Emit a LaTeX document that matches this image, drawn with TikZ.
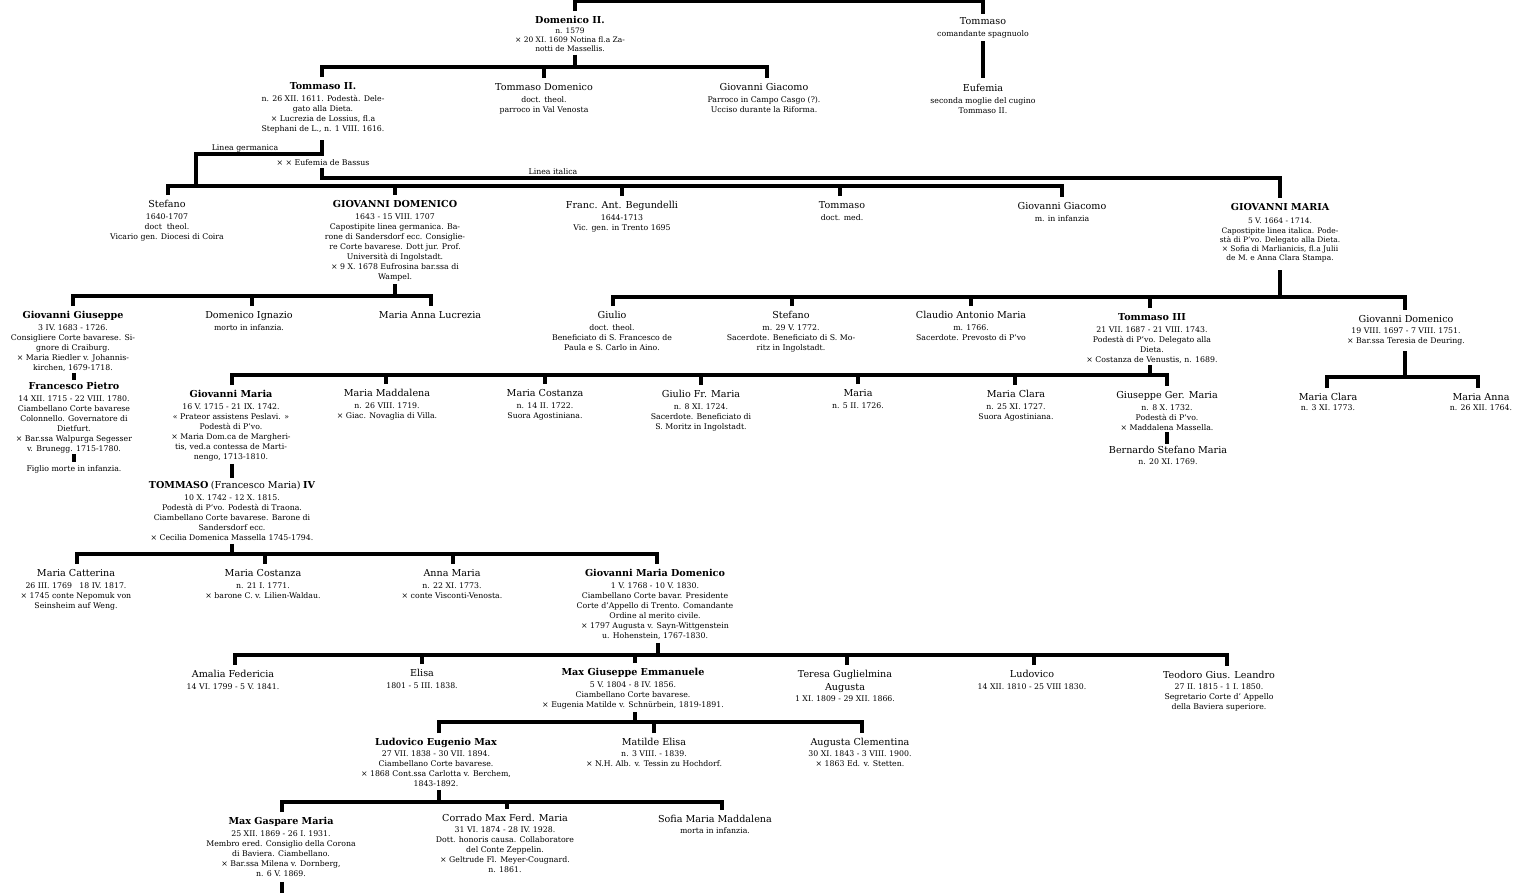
\documentclass[tikz,border=0pt]{standalone}
\usepackage{fontspec}
\setmainfont{DejaVu Serif}
\tikzset{
  per/.style={anchor=north, align=center, inner sep=0pt, font=\fontsize{7.8}{10}\selectfont},
  perc/.style={per, font=\fontsize{7.5}{9.1}\selectfont},
  lab/.style={inner sep=0pt, font=\fontsize{7.8}{10}\selectfont},
  lnk/.style={line width=3.8pt},
}
\newcommand\NM[1]{{\fontsize{9.6}{10}\selectfont #1}}
\newcommand\BN[1]{{\fontsize{9.6}{10}\selectfont\bfseries #1}}
\begin{document}
\begin{tikzpicture}[x=1pt,y=-1pt]
\fill[white] (0,0) rectangle (1515,895);
\useasboundingbox (0,0) rectangle (1515,895);

% ---------- persons ----------
\node[perc] (dom2) at (570,16) {\BN{Domenico II.}\\[0.5pt] n. 1579\\ × 20 XI. 1609 Notina fl.a Za-\\ notti de Massellis.};
\node[per] (tomsp) at (983,17) {\NM{Tommaso}\\[2pt] comandante spagnuolo};

\node[per] (tom2) at (323,82) {\BN{Tommaso II.}\\[2pt] n. 26 XII. 1611. Podestà. Dele-\\ gato alla Dieta.\\ × Lucrezia de Lossius, fl.a\\ Stephani de L., n. 1 VIII. 1616.};
\node[per] (tomdom) at (544,83) {\NM{Tommaso Domenico}\\[2pt] doct. theol.\\ parroco in Val Venosta};
\node[per] (giogia1) at (764,83) {\NM{Giovanni Giacomo}\\[2pt] Parroco in Campo Casgo (?).\\ Ucciso durante la Riforma.};
\node[per] (eufemia) at (983,84) {\NM{Eufemia}\\[2pt] seconda moglie del cugino\\ Tommaso II.};

\node[lab] (lgerm) at (245,148) {Linea germanica};
\node[lab] (eubas) at (323,163) {× × Eufemia de Bassus};
\node[lab] (lital) at (553,172) {Linea italica};

\node[per] (stef1) at (167,200) {\NM{Stefano}\\[2pt] 1640-1707\\ doct\ \ theol.\\ Vicario gen. Diocesi di Coira};
\node[per] (giodom) at (395,200) {\BN{GIOVANNI DOMENICO}\\[2pt] 1643 - 15 VIII. 1707\\ Capostipite linea germanica. Ba-\\ rone di Sandersdorf ecc. Consiglie-\\ re Corte bavarese. Dott jur. Prof.\\ Università di Ingolstadt.\\ × 9 X. 1678 Eufrosina bar.ssa di\\ Wampel.};
\node[per] (franc) at (622,201) {\NM{Franc. Ant. Begundelli}\\[2pt] 1644-1713\\ Vic. gen. in Trento 1695};
\node[per] (tom3a) at (842,201) {\NM{Tommaso}\\[2pt] doct. med.};
\node[per] (giogia2) at (1062,202) {\NM{Giovanni Giacomo}\\[2pt] m. in infanzia};
\node[perc] (giomar) at (1280,203) {\BN{GIOVANNI MARIA}\\[4.5pt] 5 V. 1664 - 1714.\\ Capostipite linea italica. Pode-\\ stà di P'vo. Delegato alla Dieta.\\ × Sofia di Marlianicis, fl.a Julii\\ de M. e Anna Clara Stampa.};

\node[per] (giogiu) at (73,311) {\BN{Giovanni Giuseppe}\\[2pt] 3 IV. 1683 - 1726.\\ Consigliere Corte bavarese. Si-\\ gnore di Craiburg.\\ × Maria Riedler v. Johannis-\\ kirchen, 1679-1718.};
\node[per] (domign) at (249,311) {\NM{Domenico Ignazio}\\[2pt] morto in infanzia.};
\node[per] (marannl) at (430,311) {\NM{Maria Anna Lucrezia}};
\node[per] (giulio) at (612,311) {\NM{Giulio}\\[2pt] doct. theol.\\ Beneficiato di S. Francesco de\\ Paula e S. Carlo in Aino.};
\node[per] (stef2) at (791,311) {\NM{Stefano}\\[2pt] m. 29 V. 1772.\\ Sacerdote. Beneficiato di S. Mo-\\ ritz in Ingolstadt.};
\node[per] (claudio) at (971,311) {\NM{Claudio Antonio Maria}\\[2pt] m. 1766.\\ Sacerdote. Prevosto di P'vo};
\node[per] (tom3) at (1152,313) {\BN{Tommaso III}\\[2pt] 21 VII. 1687 - 21 VIII. 1743.\\ Podestà di P'vo. Delegato alla\\ Dieta.\\ × Costanza de Venustis, n. 1689.};
\node[per] (giodom2) at (1406,315) {\NM{Giovanni Domenico}\\[1pt] 19 VIII. 1697 - 7 VIII. 1751.\\ × Bar.ssa Teresia de Deuring.};

\node[per] (franpie) at (74,382) {\BN{Francesco Pietro}\\[2pt] 14 XII. 1715 - 22 VIII. 1780.\\ Ciambellano Corte bavarese\\ Colonnello. Governatore di\\ Dietfurt.\\ × Bar.ssa Walpurga Segesser\\ v. Brunegg. 1715-1780.};
\node[per] (figlio) at (74,465) {Figlio morte in infanzia.};

\node[per] (giomar2) at (231,390) {\BN{Giovanni Maria}\\[2pt] 16 V. 1715 - 21 IX. 1742.\\ « Prateor assistens Peslavi. »\\ Podestà di P'vo.\\ × Maria Dom.ca de Margheri-\\ tis, ved.a contessa de Marti-\\ nengo, 1713-1810.};
\node[per] (marmad) at (387,389) {\NM{Maria Maddalena}\\[2pt] n. 26 VIII. 1719.\\ × Giac. Novaglia di Villa.};
\node[per] (marcos1) at (545,389) {\NM{Maria Costanza}\\[2pt] n. 14 II. 1722.\\ Suora Agostiniana.};
\node[per] (giulfr) at (701,390) {\NM{Giulio Fr. Maria}\\[2pt] n. 8 XI. 1724.\\ Sacerdote. Beneficiato di\\ S. Moritz in Ingolstadt.};
\node[per] (maria) at (858,389) {\NM{Maria}\\[2pt] n. 5 II. 1726.};
\node[per] (marcla1) at (1016,390) {\NM{Maria Clara}\\[2pt] n. 25 XI. 1727.\\ Suora Agostiniana.};
\node[per] (giuger) at (1167,391) {\NM{Giuseppe Ger. Maria}\\[2pt] n. 8 X. 1732.\\ Podestà di P'vo.\\ × Maddalena Massella.};
\node[per] (bern) at (1168,446) {\NM{Bernardo Stefano Maria}\\[1pt] n. 20 XI. 1769.};
\node[per] (marcla2) at (1328,393) {\NM{Maria Clara}\\[0pt] n. 3 XI. 1773.};
\node[per] (marann2) at (1481,393) {\NM{Maria Anna}\\[0pt] n. 26 XII. 1764.};

\node[per] (tom4) at (232,481) {\BN{TOMMASO} \NM{(Francesco Maria)} \BN{IV}\\[2pt] 10 X. 1742 - 12 X. 1815.\\ Podestà di P'vo. Podestà di Traona.\\ Ciambellano Corte bavarese. Barone di\\ Sandersdorf ecc.\\ × Cecilia Domenica Massella 1745-1794.};

\node[per] (marcat) at (76,569) {\NM{Maria Catterina}\\[2pt] 26 III. 1769 \ \ 18 IV. 1817.\\ × 1745 conte Nepomuk von\\ Seinsheim auf Weng.};
\node[per] (marcos2) at (263,569) {\NM{Maria Costanza}\\[2pt] n. 21 I. 1771.\\ × barone C. v. Lilien-Waldau.};
\node[per] (annmar) at (452,569) {\NM{Anna Maria}\\[2pt] n. 22 XI. 1773.\\ × conte Visconti-Venosta.};
\node[per] (giomardom) at (655,569) {\BN{Giovanni Maria Domenico}\\[2pt] 1 V. 1768 - 10 V. 1830.\\ Ciambellano Corte bavar. Presidente\\ Corte d'Appello di Trento. Comandante\\ Ordine al merito civile.\\ × 1797 Augusta v. Sayn-Wittgenstein\\ u. Hohenstein, 1767-1830.};

\node[per] (amalia) at (233,670) {\NM{Amalia Federicia}\\[2pt] 14 VI. 1799 - 5 V. 1841.};
\node[per] (elisa) at (422,669) {\NM{Elisa}\\[2pt] 1801 - 5 III. 1838.};
\node[per] (maxgiu) at (633,668) {\BN{Max Giuseppe Emmanuele}\\[2pt] 5 V. 1804 - 8 IV. 1856.\\ Ciambellano Corte bavarese.\\ × Eugenia Matilde v. Schnürbein, 1819-1891.};
\node[per] (teresa) at (845,670) {\NM{Teresa Guglielmina}\\[3pt] \NM{Augusta}\\[1pt] 1 XI. 1809 - 29 XII. 1866.};
\node[per] (ludov) at (1032,670) {\NM{Ludovico}\\[2pt] 14 XII. 1810 - 25 VIII 1830.};
\node[per] (teodoro) at (1219,671) {\NM{Teodoro Gius. Leandro}\\[1pt] 27 II. 1815 - 1 I. 1850.\\ Segretario Corte d' Appello\\ della Baviera superiore.};

\node[per] (ludeug) at (436,738) {\BN{Ludovico Eugenio Max}\\[1pt] 27 VII. 1838 - 30 VII. 1894.\\ Ciambellano Corte bavarese.\\ × 1868 Cont.ssa Carlotta v. Berchem,\\ 1843-1892.};
\node[per] (matil) at (654,738) {\NM{Matilde Elisa}\\[1pt] n. 3 VIII. - 1839.\\ × N.H. Alb. v. Tessin zu Hochdorf.};
\node[per] (augcle) at (860,738) {\NM{Augusta Clementina}\\[1pt] 30 XI. 1843 - 3 VIII. 1900.\\ × 1863 Ed. v. Stetten.};

\node[per] (maxgas) at (281,817) {\BN{Max Gaspare Maria}\\[2pt] 25 XII. 1869 - 26 I. 1931.\\ Membro ered. Consiglio della Corona\\ di Baviera. Ciambellano.\\ × Bar.ssa Milena v. Dornberg,\\ n. 6 V. 1869.};
\node[per] (corrado) at (505,814) {\NM{Corrado Max Ferd. Maria}\\[1pt] 31 VI. 1874 - 28 IV. 1928.\\ Dott. honoris causa. Collaboratore\\ del Conte Zeppelin.\\ × Geltrude Fl. Meyer-Cougnard.\\ n. 1861.};
\node[per] (sofia) at (715,815) {\NM{Sofia Maria Maddalena}\\[1pt] morta in infanzia.};

% ---------- bar levels ----------
\coordinate (b0) at (0,1.5);
\coordinate (b1) at (0,67);
\coordinate (gm) at (196,154);
\coordinate (b2i) at (0,178);
\coordinate (b2) at (0,186);
\coordinate (b3) at (0,296);
\coordinate (b4) at (0,297);
\coordinate (b5) at (0,375);
\coordinate (b6) at (0,377);
\coordinate (b7) at (0,554);
\coordinate (b8) at (0,655);
\coordinate (b9) at (0,722);
\coordinate (b10) at (0,802);
\coordinate (maxgasend) at (282,893);

% ---------- tick points ----------
\coordinate (dom2t) at ([xshift=5pt,yshift=5pt]dom2.north);
\coordinate (tomspt) at ([yshift=3pt]tomsp.north);
\coordinate (dom2b) at ([xshift=5pt,yshift=-3pt]dom2.south);
\coordinate (tom2t) at ([xshift=-1pt,yshift=5pt]tom2.north);
\coordinate (tomdomt) at ([yshift=5pt]tomdom.north);
\coordinate (giogia1t) at ([xshift=3pt,yshift=5pt]giogia1.north);
\coordinate (tomspb) at ([yshift=-3pt]tomsp.south);
\coordinate (eufemiat) at ([yshift=6pt]eufemia.north);
\coordinate (tom2b) at ([xshift=-1pt,yshift=-7pt]tom2.south);
\coordinate (eubasb) at ([xshift=-1pt,yshift=-2pt]eubas.south);
\coordinate (giomart) at ([yshift=5pt]giomar.north);
\coordinate (stef1t) at ([xshift=1pt,yshift=5pt]stef1.north);
\coordinate (giodomt) at ([yshift=5pt]giodom.north);
\coordinate (franct) at ([yshift=5pt]franc.north);
\coordinate (tom3at) at ([xshift=-2pt,yshift=5pt]tom3a.north);
\coordinate (giogia2t) at ([yshift=5pt]giogia2.north);
\coordinate (giodomb) at ([yshift=-3pt]giodom.south);
\coordinate (giogiut) at ([yshift=5pt]giogiu.north);
\coordinate (domignt) at ([xshift=3pt,yshift=5pt]domign.north);
\coordinate (marannlt) at ([xshift=1pt,yshift=5pt]marannl.north);
\coordinate (giomarb) at ([yshift=-8pt]giomar.south);
\coordinate (giuliot) at ([xshift=1pt,yshift=5pt]giulio.north);
\coordinate (stef2t) at ([xshift=1pt,yshift=5pt]stef2.north);
\coordinate (claudiot) at ([yshift=5pt]claudio.north);
\coordinate (tom3t) at ([xshift=-2pt,yshift=5pt]tom3.north);
\coordinate (giodom2t) at ([xshift=-1pt,yshift=5pt]giodom2.north);
\coordinate (giogiub) at ([xshift=1pt,yshift=-1pt]giogiu.south);
\coordinate (franpiet) at ([yshift=2.5pt]franpie.north);
\coordinate (franpieb) at ([yshift=-1pt]franpie.south);
\coordinate (figliot) at ([yshift=3pt]figlio.north);
\coordinate (tom3b) at ([xshift=-2pt,yshift=-2pt]tom3.south);
\coordinate (giomar2t) at ([xshift=1pt,yshift=5pt]giomar2.north);
\coordinate (marmadt) at ([xshift=-1pt,yshift=5pt]marmad.north);
\coordinate (marcos1t) at ([yshift=5pt]marcos1.north);
\coordinate (giulfrt) at ([yshift=5pt]giulfr.north);
\coordinate (mariat) at ([yshift=5pt]maria.north);
\coordinate (marcla1t) at ([xshift=-1pt,yshift=5pt]marcla1.north);
\coordinate (giugert) at ([yshift=5pt]giuger.north);
\coordinate (giugerb) at ([yshift=-1.5pt]giuger.south);
\coordinate (bernt) at ([xshift=-1pt,yshift=2.5pt]bern.north);
\coordinate (giodom2b) at ([xshift=-1pt,yshift=-6pt]giodom2.south);
\coordinate (marcla2t) at ([xshift=-1pt,yshift=5pt]marcla2.north);
\coordinate (marann2t) at ([xshift=-3pt,yshift=5pt]marann2.north);
\coordinate (giomar2b) at ([xshift=1pt,yshift=-2.5pt]giomar2.south);
\coordinate (tom4t) at ([yshift=3pt]tom4.north);
\coordinate (tom4b) at ([yshift=-3pt]tom4.south);
\coordinate (marcatt) at ([xshift=1pt,yshift=5pt]marcat.north);
\coordinate (marcos2t) at ([xshift=2pt,yshift=5pt]marcos2.north);
\coordinate (annmart) at ([xshift=1pt,yshift=5pt]annmar.north);
\coordinate (giomardomt) at ([xshift=2pt,yshift=5pt]giomardom.north);
\coordinate (giomardomb) at ([xshift=3pt,yshift=-3pt]giomardom.south);
\coordinate (amaliat) at ([xshift=2pt,yshift=5pt]amalia.north);
\coordinate (elisat) at ([yshift=5pt]elisa.north);
\coordinate (maxgiut) at ([xshift=2pt,yshift=5pt]maxgiu.north);
\coordinate (teresat) at ([xshift=2pt,yshift=5pt]teresa.north);
\coordinate (ludovt) at ([xshift=2pt,yshift=5pt]ludov.north);
\coordinate (teodorot) at ([xshift=8pt,yshift=5pt]teodoro.north);
\coordinate (maxgiub) at ([xshift=2pt,yshift=-3pt]maxgiu.south);
\coordinate (ludeugt) at ([xshift=3pt,yshift=5pt]ludeug.north);
\coordinate (matilt) at ([yshift=5pt]matil.north);
\coordinate (auglet) at ([xshift=2pt,yshift=5pt]augcle.north);
\coordinate (ludeugb) at ([xshift=3pt,yshift=-3pt]ludeug.south);
\coordinate (maxgast) at ([xshift=1pt,yshift=5pt]maxgas.north);
\coordinate (corradot) at ([xshift=2pt,yshift=5pt]corrado.north);
\coordinate (sofiat) at ([xshift=7pt,yshift=5pt]sofia.north);
\coordinate (maxgasb) at ([xshift=1pt,yshift=-5pt]maxgas.south);

% ---------- connectors ----------
\draw[lnk] (dom2t) -- (dom2t |- b0) -- (tomspt |- b0) -- (tomspt);
\draw[lnk] (dom2b) -- (dom2b |- b1);
\draw[lnk] (tom2t) -- (tom2t |- b1) -- (giogia1t |- b1) -- (giogia1t);
\draw[lnk] (tomdomt) -- (tomdomt |- b1);
\draw[lnk] (tomspb) -- (tomspb |- eufemiat);

\draw[lnk] (tom2b) -- (tom2b |- gm) -- (gm) -- (gm |- b2);
\draw[lnk] (eubasb) -- (eubasb |- b2i) -- (giomart |- b2i) -- (giomart);

\draw[lnk] (stef1t) -- (stef1t |- b2) -- (giogia2t |- b2) -- (giogia2t);
\draw[lnk] (giodomt) -- (giodomt |- b2);
\draw[lnk] (franct) -- (franct |- b2);
\draw[lnk] (tom3at) -- (tom3at |- b2);

\draw[lnk] (giodomb) -- (giodomb |- b3);
\draw[lnk] (giogiut) -- (giogiut |- b3) -- (marannlt |- b3) -- (marannlt);
\draw[lnk] (domignt) -- (domignt |- b3);

\draw[lnk] (giomarb) -- (giomarb |- b4);
\draw[lnk] (giuliot) -- (giuliot |- b4) -- (giodom2t |- b4) -- (giodom2t);
\draw[lnk] (stef2t) -- (stef2t |- b4);
\draw[lnk] (claudiot) -- (claudiot |- b4);
\draw[lnk] (tom3t) -- (tom3t |- b4);

\draw[lnk] (giogiub) -- (giogiub |- franpiet);
\draw[lnk] (franpieb) -- (franpieb |- figliot);

\draw[lnk] (tom3b) -- (tom3b |- b5);
\draw[lnk] (giomar2t) -- (giomar2t |- b5) -- (giugert |- b5) -- (giugert);
\draw[lnk] (marmadt) -- (marmadt |- b5);
\draw[lnk] (marcos1t) -- (marcos1t |- b5);
\draw[lnk] (giulfrt) -- (giulfrt |- b5);
\draw[lnk] (mariat) -- (mariat |- b5);
\draw[lnk] (marcla1t) -- (marcla1t |- b5);
\draw[lnk] (giugerb) -- (giugerb |- bernt);

\draw[lnk] (giodom2b) -- (giodom2b |- b6);
\draw[lnk] (marcla2t) -- (marcla2t |- b6) -- (marann2t |- b6) -- (marann2t);

\draw[lnk] (giomar2b) -- (giomar2b |- tom4t);
\draw[lnk] (tom4b) -- (tom4b |- b7);
\draw[lnk] (marcatt) -- (marcatt |- b7) -- (giomardomt |- b7) -- (giomardomt);
\draw[lnk] (marcos2t) -- (marcos2t |- b7);
\draw[lnk] (annmart) -- (annmart |- b7);

\draw[lnk] (giomardomb) -- (giomardomb |- b8);
\draw[lnk] (amaliat) -- (amaliat |- b8) -- (teodorot |- b8) -- (teodorot);
\draw[lnk] (elisat) -- (elisat |- b8);
\draw[lnk] (maxgiut) -- (maxgiut |- b8);
\draw[lnk] (teresat) -- (teresat |- b8);
\draw[lnk] (ludovt) -- (ludovt |- b8);

\draw[lnk] (maxgiub) -- (maxgiub |- b9);
\draw[lnk] (ludeugt) -- (ludeugt |- b9) -- (auglet |- b9) -- (auglet);
\draw[lnk] (matilt) -- (matilt |- b9);

\draw[lnk] (ludeugb) -- (ludeugb |- b10);
\draw[lnk] (maxgast) -- (maxgast |- b10) -- (sofiat |- b10) -- (sofiat);
\draw[lnk] (corradot) -- (corradot |- b10);
\draw[lnk] (maxgasb) -- (maxgasb |- maxgasend);
\end{tikzpicture}
\end{document}
